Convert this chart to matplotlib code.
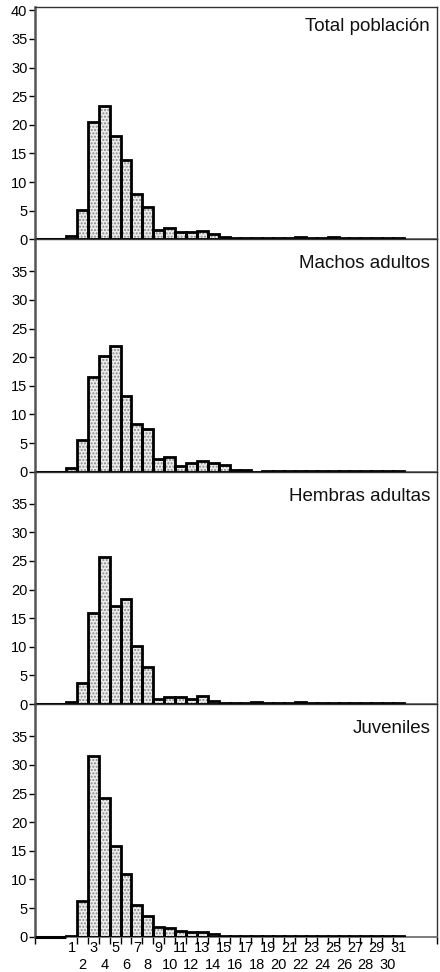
import matplotlib
matplotlib.use("Agg")
import matplotlib.pyplot as plt
import numpy as np

plt.rcParams['font.family'] = ['Liberation Sans', 'DejaVu Sans']

categories = list(range(1, 32))
titles = ["Total población", "Machos adultos", "Hembras adultas", "Juveniles"]

total = [0.5, 5.2, 20.5, 23.3, 18.0, 13.8, 8.0, 5.7, 1.7, 2.0, 1.2, 1.2, 1.5, 0.9, 0.4,
         0.2, 0.3, 0.3, 0.3, 0.2, 0.2, 0.4, 0.2, 0.2, 0.4, 0.2, 0.2, 0.2, 0.2, 0.2, 0.2]
machos = [0.6, 5.5, 16.6, 20.2, 22.0, 13.2, 8.3, 7.4, 2.2, 2.6, 1.0, 1.5, 1.9, 1.5, 1.2,
          0.3, 0.3, 0.0, 0.1, 0.1, 0.1, 0.1, 0.1, 0.1, 0.1, 0.1, 0.1, 0.1, 0.1, 0.1, 0.1]
hembras = [0.4, 3.7, 16.0, 25.7, 17.2, 18.3, 10.2, 6.5, 0.9, 1.3, 1.3, 0.9, 1.5, 0.6, 0.2,
           0.2, 0.2, 0.4, 0.2, 0.2, 0.2, 0.4, 0.2, 0.2, 0.2, 0.2, 0.2, 0.2, 0.2, 0.2, 0.2]
juveniles = [0.2, 6.3, 31.5, 24.2, 15.9, 10.9, 5.6, 3.7, 1.7, 1.6, 1.0, 0.9, 0.9, 0.5, 0.2,
             0.1, 0.1, 0.1, 0.1, 0.1, 0.1, 0.1, 0.1, 0.1, 0.1, 0.1, 0.1, 0.1, 0.1, 0.1, 0.1]
series = [total, machos, hembras, juveniles]

W, H = 440, 972
fig = plt.figure(figsize=(W / 100, H / 100), dpi=100)

left_px, right_px = 35, 437
tops = [6.9, 239.3, 471.7, 704.3]
panel_h = 232.4
xlim = (-2.35, 34.53)
ylim = (0, 40.6)
title_y = [0.915, 0.895, 0.895, 0.895]

for i, (vals, title) in enumerate(zip(series, titles)):
    bottom_px = tops[i] + panel_h
    ax = fig.add_axes([left_px / W, 1 - bottom_px / H, (right_px - left_px) / W, panel_h / H])
    ax.set_xlim(*xlim)
    ax.set_ylim(*ylim)
    # stippled fill
    ax.bar(categories, vals, width=1.0, color='#ececec', hatch='.....',
           edgecolor='#8a8a8a', linewidth=0, zorder=2)
    # thick outlines
    ax.bar(categories, vals, width=1.0, fill=False, edgecolor='black',
           linewidth=2.0, zorder=3)
    # thick baseline segment left of first bar
    ax.plot([xlim[0], categories[0] - 0.5], [0, 0], color='black', lw=2.2,
            zorder=4, solid_capstyle='butt', clip_on=False)
    for s in ['top', 'right']:
        ax.spines[s].set_linewidth(1.0)
        ax.spines[s].set_color('#333333')
    ax.spines['left'].set_linewidth(1.8)
    ax.spines['left'].set_color('#555555')
    ax.spines['bottom'].set_linewidth(1.2)
    ax.spines['bottom'].set_color('#666666')

    yt = list(range(0, 45, 5)) if i == 0 else list(range(0, 40, 5))
    ax.set_yticks(yt)
    ax.set_yticklabels([str(v) for v in yt], fontsize=10.5)
    ax.tick_params(axis='y', direction='out', length=4, width=1, pad=1.5, colors='black')

    ax.text(0.983, title_y[i], title, transform=ax.transAxes, ha='right', va='center',
            fontsize=13.5, color='#111111')

    if i < 3:
        ax.set_xticks([])
    else:
        edges = [xlim[0]] + [c + 0.5 for c in categories[:-1]] + [xlim[1]]
        ax.set_xticks(edges)
        ax.set_xticklabels([''] * len(edges))
        ax.tick_params(axis='x', which='major', direction='out', length=5, width=1)
        tr = ax.get_xaxis_transform()
        for c in categories:
            yy = -11.5 / panel_h if c % 2 == 1 else -28.5 / panel_h
            ax.text(c, yy, str(c), transform=tr, ha='center', va='center',
                    fontsize=10.5, clip_on=False)

fig.savefig("out.png", dpi=100)
